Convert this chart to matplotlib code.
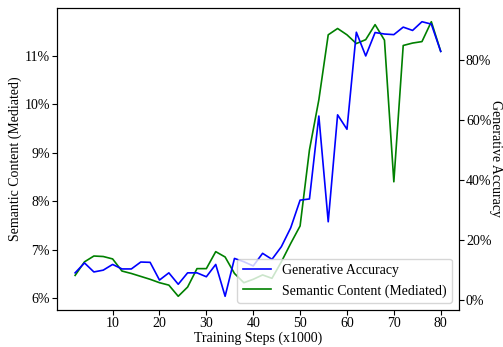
import numpy as np
import matplotlib
matplotlib.use("Agg")
import matplotlib.pyplot as plt
from matplotlib.ticker import PercentFormatter

plt.rcParams['font.family'] = ['Liberation Serif', 'DejaVu Serif']
plt.rcParams['font.size'] = 10
plt.rcParams['xtick.major.pad'] = 1.5
plt.rcParams['ytick.major.pad'] = 1.5

steps = np.arange(2, 82, 2)

# semantic content (mediated), percent
semantic = [6.47, 6.75, 6.87, 6.86, 6.81, 6.56, 6.51, 6.45, 6.39, 6.32,
            6.27, 6.04, 6.23, 6.61, 6.61, 6.96, 6.85, 6.51, 6.32, 6.39,
            6.48, 6.41, 6.75, 7.13, 7.49, 9.06, 10.09, 11.43, 11.56, 11.43,
            11.25, 11.33, 11.64, 11.32, 8.40, 11.21, 11.26, 11.29, 11.70, 11.09]

# generative accuracy, percent
gen_acc = [9.1, 12.4, 9.4, 10.0, 11.9, 10.4, 10.4, 12.7, 12.6, 6.7,
           9.1, 5.3, 9.1, 9.1, 7.8, 11.9, 1.3, 13.9, 12.8, 11.4,
           15.6, 13.6, 17.8, 24.1, 33.3, 33.7, 61.3, 26.1, 61.7, 56.9,
           89.2, 81.3, 89.1, 88.6, 88.4, 90.9, 89.8, 92.7, 91.9, 82.8]

fig = plt.figure(figsize=(5.03, 3.47), dpi=100)
ax1 = fig.add_axes([0.113, 0.1066, 0.7995, 0.8704])

l2, = ax1.plot(steps, semantic, color='green', lw=1.2, label='Semantic Content (Mediated)')
ax1.set_xlabel('Training Steps (x1000)', labelpad=1)
ax1.set_ylabel('Semantic Content (Mediated)', labelpad=2)
ax1.yaxis.set_major_formatter(PercentFormatter(decimals=0))
ax1.set_xticks([10, 20, 30, 40, 50, 60, 70, 80])

ax2 = ax1.twinx()
l1, = ax2.plot(steps, gen_acc, color='blue', lw=1.2, label='Generative Accuracy')
ax2.set_ylabel('Generative Accuracy', rotation=270, va='center', ha='center')
ax2.yaxis.set_label_coords(1.092, 0.5)
ax2.yaxis.set_major_formatter(PercentFormatter(decimals=0))
ax2.set_yticks([0, 20, 40, 60, 80])

ax2.legend([l1, l2], [l1.get_label(), l2.get_label()], loc='lower right')

fig.savefig('out.png', dpi=100)
